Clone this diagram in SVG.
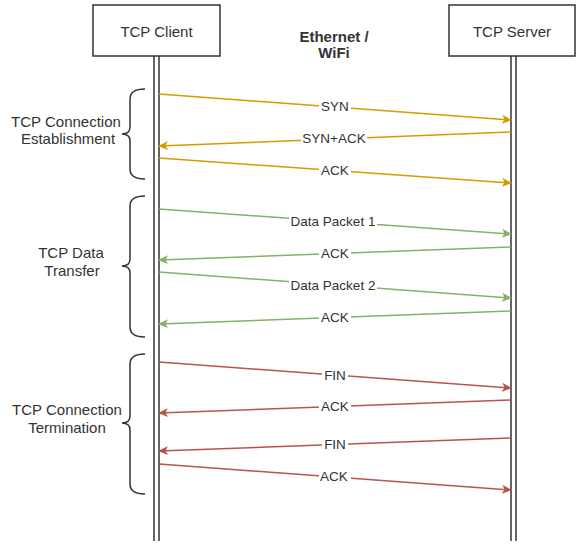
<svg xmlns="http://www.w3.org/2000/svg" width="576" height="544" viewBox="0 0 576 544">
  <style>
    .box { fill: #ffffff; stroke: #333333; stroke-width: 1.5; }
    .life { stroke: #333333; stroke-width: 1.5; fill: none; }
    .brace { stroke: #333333; stroke-width: 1.5; fill: none; }
    .t { font-family: "Liberation Sans", Arial, sans-serif; fill: #333333; }
    .head { font-size: 15px; text-anchor: middle; }
    .side { font-size: 15px; text-anchor: middle; }
    .lbl { font-size: 13.5px; text-anchor: middle; }
    .bg { fill: #ffffff; }
    .msg { stroke-width: 1.5; fill: none; }
    .o { stroke: #d79b00; }
    .g { stroke: #82b366; }
    .r { stroke: #b85450; }
  </style>
  <defs>
    <marker id="ao" viewBox="0 0 10 10" refX="9" refY="5" markerWidth="10" markerHeight="10" markerUnits="userSpaceOnUse" orient="auto">
      <path d="M0,0.5 L10,5 L0,9.5 L2.5,5 Z" fill="#d79b00"/>
    </marker>
    <marker id="ag" viewBox="0 0 10 10" refX="9" refY="5" markerWidth="10" markerHeight="10" markerUnits="userSpaceOnUse" orient="auto">
      <path d="M0,0.5 L10,5 L0,9.5 L2.5,5 Z" fill="#82b366"/>
    </marker>
    <marker id="ar" viewBox="0 0 10 10" refX="9" refY="5" markerWidth="10" markerHeight="10" markerUnits="userSpaceOnUse" orient="auto">
      <path d="M0,0.5 L10,5 L0,9.5 L2.5,5 Z" fill="#b85450"/>
    </marker>
  </defs>
  <rect width="576" height="544" fill="#ffffff"/>

  <!-- client participant with its double lifeline -->
  <g id="client">
    <rect class="box" x="93" y="5" width="127" height="51"/>
    <text class="t head" x="156.5" y="37">TCP Client</text>
    <line class="life" x1="154" y1="56" x2="154" y2="541"/>
    <line class="life" x1="159" y1="56" x2="159" y2="541"/>
  </g>

  <!-- server participant with its double lifeline -->
  <g id="server">
    <rect class="box" x="449" y="5" width="126" height="51"/>
    <text class="t head" x="512" y="37">TCP Server</text>
    <line class="life" x1="511" y1="56" x2="511" y2="541"/>
    <line class="life" x1="516" y1="56" x2="516" y2="541"/>
  </g>

  <!-- medium label -->
  <g id="medium">
    <text class="t" x="334" y="42" font-size="15" font-weight="bold" text-anchor="middle">Ethernet /</text>
    <text class="t" x="334" y="58" font-size="15" font-weight="bold" text-anchor="middle">WiFi</text>
  </g>

  <!-- phase braces and captions -->
  <g id="phase-establish">
    <path class="brace" d="M145,89 Q130,89 130,99 L130,127 Q130,134 122,134 Q130,134 130,141 L130,169 Q130,179 145,179"/>
    <text class="t side" x="66" y="127">TCP Connection</text>
    <text class="t side" x="68" y="144">Establishment</text>
  </g>
  <g id="phase-transfer">
    <path class="brace" d="M145,196 Q130,196 130,206 L130,259 Q130,266 122,266 Q130,266 130,273 L130,327 Q130,337 145,337"/>
    <text class="t side" x="71" y="258">TCP Data</text>
    <text class="t side" x="72" y="276">Transfer</text>
  </g>
  <g id="phase-terminate">
    <path class="brace" d="M145,354 Q130,354 130,364 L130,416 Q130,423 122,423 Q130,423 130,430 L130,484 Q130,494 145,494"/>
    <text class="t side" x="67" y="415">TCP Connection</text>
    <text class="t side" x="67" y="433">Termination</text>
  </g>

  <!-- messages -->
  <g id="connectors">
    <line class="msg o" x1="159" y1="94" x2="511" y2="120" marker-end="url(#ao)"/>
    <line class="msg o" x1="511" y1="132" x2="159" y2="146" marker-end="url(#ao)"/>
    <line class="msg o" x1="159" y1="158" x2="511" y2="183" marker-end="url(#ao)"/>

    <line class="msg g" x1="159" y1="209" x2="511" y2="234" marker-end="url(#ag)"/>
    <line class="msg g" x1="511" y1="247" x2="159" y2="260" marker-end="url(#ag)"/>
    <line class="msg g" x1="159" y1="272" x2="511" y2="298" marker-end="url(#ag)"/>
    <line class="msg g" x1="511" y1="311" x2="159" y2="324" marker-end="url(#ag)"/>

    <line class="msg r" x1="159" y1="362" x2="511" y2="388" marker-end="url(#ar)"/>
    <line class="msg r" x1="511" y1="400" x2="159" y2="413" marker-end="url(#ar)"/>
    <line class="msg r" x1="511" y1="438" x2="159" y2="451" marker-end="url(#ar)"/>
    <line class="msg r" x1="159" y1="464" x2="511" y2="490" marker-end="url(#ar)"/>

    <!-- message labels on white backing -->
    <rect class="bg" x="319" y="99" width="32" height="15"/>
    <text class="t lbl" x="335" y="111">SYN</text>
    <rect class="bg" x="301" y="131" width="66" height="15"/>
    <text class="t lbl" x="334" y="143">SYN+ACK</text>
    <rect class="bg" x="319" y="163" width="32" height="15"/>
    <text class="t lbl" x="335" y="175">ACK</text>

    <rect class="bg" x="289" y="214" width="88" height="15"/>
    <text class="t lbl" x="333" y="226">Data Packet 1</text>
    <rect class="bg" x="319" y="246" width="32" height="15"/>
    <text class="t lbl" x="335" y="258">ACK</text>
    <rect class="bg" x="289" y="278" width="88" height="15"/>
    <text class="t lbl" x="333" y="290">Data Packet 2</text>
    <rect class="bg" x="319" y="310" width="32" height="15"/>
    <text class="t lbl" x="335" y="322">ACK</text>

    <rect class="bg" x="322" y="368" width="26" height="15"/>
    <text class="t lbl" x="335" y="380">FIN</text>
    <rect class="bg" x="319" y="399" width="32" height="15"/>
    <text class="t lbl" x="335" y="411">ACK</text>
    <rect class="bg" x="322" y="437" width="26" height="15"/>
    <text class="t lbl" x="335" y="449">FIN</text>
    <rect class="bg" x="319" y="469" width="32" height="15"/>
    <text class="t lbl" x="334" y="481">ACK</text>
  </g>
</svg>
